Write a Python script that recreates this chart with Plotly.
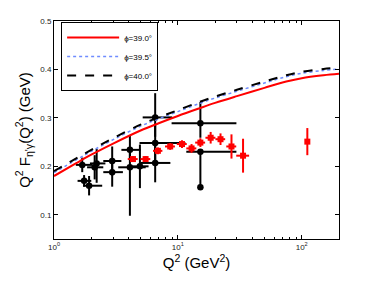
import plotly.graph_objects as go

# Theory curves
curve_q2 = [1, 1.5, 2, 3, 5, 7, 10, 15, 20, 30, 50, 75, 100, 150, 200]
f_phi390 = [0.180, 0.206, 0.224, 0.247, 0.274, 0.289, 0.304, 0.320, 0.331, 0.345, 0.362, 0.375, 0.382, 0.388, 0.391]
f_phi395 = [0.187, 0.213, 0.231, 0.255, 0.283, 0.298, 0.313, 0.330, 0.341, 0.355, 0.372, 0.385, 0.392, 0.398, 0.401]
f_phi400 = [0.190, 0.216, 0.234, 0.258, 0.286, 0.301, 0.316, 0.333, 0.344, 0.358, 0.375, 0.388, 0.395, 0.401, 0.404]
curve_names = ["ϕ=39.0°", "ϕ=39.5°", "ϕ=40.0°"]

# Black data (older experiments)
black_q2 = [1.69, 1.75, 1.92, 2.13, 2.21, 2.95, 2.95, 4.10, 4.10, 4.94, 6.56, 6.56, 6.56, 15.2, 15.2, 15.2]
black_f = [0.203, 0.170, 0.160, 0.198, 0.206, 0.211, 0.188, 0.234, 0.198, 0.200, 0.301, 0.248, 0.207, 0.289, 0.230, 0.157]
black_fplus = [0.015, 0.012, 0.020, 0.025, 0.030, 0.030, 0.020, 0.030, 0.040, 0.045, 0.050, 0.040, 0.040, 0.044, 0.000, 0.070]
black_fminus = [0.015, 0.012, 0.020, 0.025, 0.040, 0.030, 0.030, 0.020, 0.100, 0.045, 0.040, 0.040, 0.040, 0.030, 0.000, 0.000]
black_q2lo = [1.50, 1.55, 1.72, 1.85, 1.95, 2.50, 2.50, 3.50, 3.30, 4.30, 5.20, 4.90, 5.00, 8.90, 11.7, 15.2]
black_q2hi = [2.05, 2.00, 2.45, 2.50, 2.60, 3.50, 3.60, 5.00, 5.50, 5.80, 9.00, 11.5, 8.70, 29.7, 29.7, 15.2]

# Red data (BaBar)
red_q2 = [4.34, 5.49, 6.9, 8.67, 10.8, 12.9, 15.2, 18.4, 22.1, 27.1, 33.6, 111]
red_f = [0.215, 0.215, 0.232, 0.241, 0.246, 0.237, 0.249, 0.259, 0.256, 0.241, 0.222, 0.251]
red_ferr = [0.006, 0.006, 0.007, 0.007, 0.008, 0.009, 0.009, 0.012, 0.012, 0.025, 0.035, 0.028]
red_q2err = [0.4, 0.5, 0.6, 0.8, 1.0, 1.2, 1.4, 1.7, 2.0, 2.5, 4.0, 0.0]

fig = go.Figure()

fig.add_trace(go.Scatter(
    x=black_q2, y=black_f, mode="markers", showlegend=False,
    marker=dict(symbol="circle", size=6.5, color="black"),
    error_y=dict(type="data", symmetric=False, array=black_fplus, arrayminus=black_fminus,
                 color="black", thickness=2, width=0),
    error_x=dict(type="data", symmetric=False,
                 array=[h - q for h, q in zip(black_q2hi, black_q2)],
                 arrayminus=[q - l for l, q in zip(black_q2lo, black_q2)],
                 color="black", thickness=2, width=0),
))

fig.add_trace(go.Scatter(
    x=red_q2, y=red_f, mode="markers", showlegend=False,
    marker=dict(symbol="square", size=6, color="red"),
    error_y=dict(type="data", array=red_ferr, color="red", thickness=2, width=0),
    error_x=dict(type="data", array=red_q2err, color="red", thickness=2, width=0),
))

fig.add_trace(go.Scatter(x=curve_q2, y=f_phi390, mode="lines", name=curve_names[0],
                         line=dict(color="red", width=2, shape="spline")))
fig.add_trace(go.Scatter(x=curve_q2, y=f_phi395, mode="lines", name=curve_names[1],
                         line=dict(color="#6f8cff", width=1.5, dash="dot", shape="spline")))
fig.add_trace(go.Scatter(x=curve_q2, y=f_phi400, mode="lines", name=curve_names[2],
                         line=dict(color="black", width=2, dash="dash", shape="spline")))

fig.update_layout(
    width=374, height=281,
    margin=dict(l=54, r=35, t=21, b=42),
    paper_bgcolor="white", plot_bgcolor="white",
    font=dict(family="Liberation Sans, Arial, sans-serif", color="black"),
    legend=dict(x=0.025, y=0.995, xanchor="left", yanchor="top",
                bgcolor="white", bordercolor="black", borderwidth=1,
                font=dict(size=8), itemwidth=52, entrywidth=94, tracegroupgap=0),
    xaxis=dict(type="log", range=[0, 2.30103], automargin=False,
               tickvals=[1, 10, 100],
               ticktext=["10<sup>0</sup>", "10<sup>1</sup>", "10<sup>2</sup>"],
               ticks="inside", ticklen=4, tickcolor="black",
               minor=dict(ticks="inside", ticklen=2, tickcolor="black",
                          tickvals=[2, 3, 4, 5, 6, 7, 8, 9, 20, 30, 40, 50, 60, 70, 80, 90, 200]),
               showline=True, linecolor="black", linewidth=1, mirror="allticks",
               showgrid=False, zeroline=False,
               tickfont=dict(size=8, color="#222"),
               title=dict(text="Q<sup>2</sup> (GeV<sup>2</sup>)", font=dict(size=15), standoff=6)),
    yaxis=dict(range=[0.05, 0.5], tickvals=[0.1, 0.2, 0.3, 0.4, 0.5], automargin=False,
               ticktext=["0.1", "0.2", "0.3", "0.4", "0.5"],
               ticks="inside", ticklen=4, tickcolor="black",
               showline=True, linecolor="black", linewidth=1, mirror="allticks",
               showgrid=False, zeroline=False,
               tickfont=dict(size=8, color="#222"),
               title=dict(text="Q<sup>2</sup> F<sub>η'γ</sub>(Q<sup>2</sup>) (GeV)", font=dict(size=15), standoff=6)),
)

fig.write_html("out.html", config={"displayModeBar": False},
               post_script="document.body.style.margin='0';")
